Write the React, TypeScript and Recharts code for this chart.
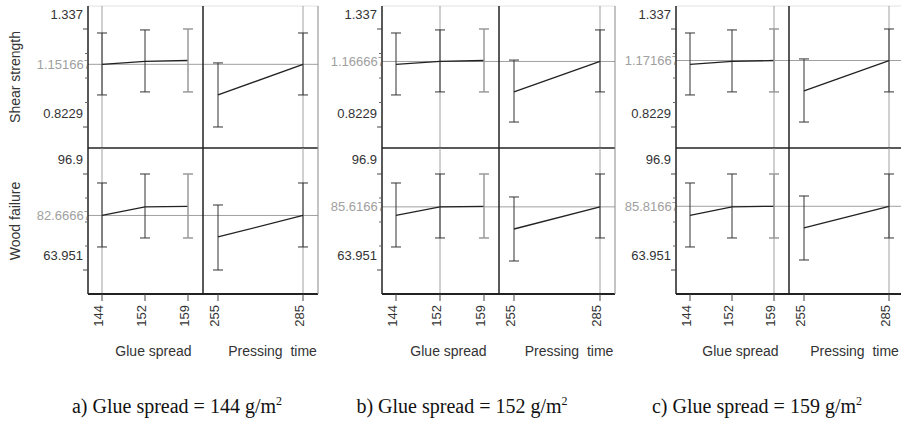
import React from "react";
import { LineChart, Line, XAxis, YAxis, ErrorBar, ReferenceLine } from "recharts";

// factor levels
const glueLevels = ["144", "152", "159"];
const pressLevels = ["255", "285"];

// shear strength profile over glue spread (pressing time at 285)
const shearGlueMean = [1.151667, 1.166667, 1.171667];
const shearGlueLow = [0.991, 1.007, 1.007];
const shearGlueHigh = [1.316, 1.332, 1.337];

// wood failure profile over glue spread
const woodGlueMean = [82.66667, 85.61667, 85.81667];
const woodGlueLow = [71.85, 74.94, 74.94];
const woodGlueHigh = [93.81, 96.9, 96.9];

// pressing time profiles, one row per panel (glue 144 / 152 / 159)
const shearPressMean = [[0.991, 1.151667], [1.007, 1.166667], [1.012, 1.171667]];
const shearPressLow = [[0.823, 0.991], [0.849, 1.007], [0.849, 1.007]];
const shearPressHigh = [[1.159, 1.316], [1.174, 1.332], [1.18, 1.337]];
const woodPressMean = [[75.28, 82.66667], [78.02, 85.61667], [78.37, 85.81667]];
const woodPressLow = [[63.95, 71.85], [67.04, 74.94], [67.38, 74.94]];
const woodPressHigh = [[86.26, 93.81], [89.01, 96.9], [89.35, 96.9]];

// current settings / predicted values per panel
const currentGlue = ["144", "152", "159"];
const currentPress = "285";
const shearCurrent = [1.151667, 1.166667, 1.171667];
const woodCurrent = [82.66667, 85.61667, 85.81667];
const grayGlue = "159";

// axis labels
const shearTicks = [1.337, 0.8229];
const woodTicks = [96.9, 63.951];
const shearDomain = [0.7128, 1.4576];
const woodDomain = [55.71, 105.82];
const captionLetters = ["a)", "b)", "c)"];

// layout
const PANELS = [
  { axisX: 88, divX: 203, rightX: 318, yw: 88, cap: 177, pressDx: 12 },
  { axisX: 382, divX: 499, rightX: 615, yw: 64, cap: 462, pressDx: 12 },
  { axisX: 676, divX: 789, rightX: 904, yw: 64, cap: 757, pressDx: 8 },
];
const ROWS = [
  { top: 6, h: 142 },
  { top: 148, h: 146 },
];
const XH = 64;
const M = 3;
const DARK = "#222";
const GRAY = "#a0a0a0";

type Pt = { level: string; mean: number; err?: number[]; errGray?: number[] };

function buildPoints(levels: string[], mean: number[], low: number[], high: number[]): Pt[] {
  return levels.map((level, i) => {
    const e = [mean[i] - low[i], high[i] - mean[i]];
    return level === grayGlue ? { level, mean: mean[i], errGray: e } : { level, mean: mean[i], err: e };
  });
}

function makeYTick(majors: number[], current: number, clipId: string) {
  return (props: any) => {
    const { x, y, payload } = props;
    const v = payload.value;
    if (v === current) {
      return (
        <g>
          <defs>
            <clipPath id={clipId}>
              <rect x={x - 80} y={y - 10} width={79} height={20} />
            </clipPath>
          </defs>
          <text x={x + 3} y={y} textAnchor="end" dominantBaseline="central" fontSize={13} fill={GRAY} clipPath={`url(#${clipId})`}>
            {String(v)}
          </text>
        </g>
      );
    }
    if (majors.includes(v)) {
      return (
        <g>
          <line x1={x - 5} x2={x} y1={y} y2={y} stroke="#444" />
          <text x={x - 5} y={y - 14} textAnchor="end" dominantBaseline="central" fontSize={13} fill="#333">
            {String(v)}
          </text>
        </g>
      );
    }
    return <line x1={x - 3} x2={x} y1={y} y2={y} stroke="#666" />;
  };
}

function XTick(props: any) {
  const { x, y, payload } = props;
  const tx = x - 4;
  const ty = y + 11;
  return (
    <g>
      <line x1={x} x2={x} y1={y} y2={y + 7} stroke="#444" />
      <text x={tx} y={ty} transform={`rotate(-90 ${tx} ${ty})`} textAnchor="end" dominantBaseline="central" fontSize={13} fill="#333">
        {payload.value}
      </text>
    </g>
  );
}

function ProfileCell(props: {
  plotLeft: number;
  top: number;
  plotW: number;
  plotH: number;
  yw: number;
  data: Pt[];
  domain: number[];
  majors: number[];
  current: number;
  refX: string;
  bottom: boolean;
  withAxis: boolean;
  padL: number;
  padR: number;
  yTitle?: string;
  xTitle: string;
  xTitleDx: number;
  id: string;
}) {
  const { plotLeft, top, plotW, plotH, yw, data, domain, majors, current, refX, bottom, withAxis, padL, padR, yTitle, xTitle, xTitleDx, id } = props;
  const xh = bottom ? XH : 1;
  const leftW = withAxis ? yw : 1;
  const rightW = withAxis ? 0 : 1;
  const w = plotW + leftW + rightW + 2 * M;
  const h = plotH + xh + 2 * M;
  const minors = [1, 2, 3].map((k) => majors[0] + ((majors[1] - majors[0]) * k) / 4);

  return (
    <div style={{ position: "absolute", left: plotLeft - leftW - M, top: top - M, width: w, height: h }}>
      <LineChart width={w} height={h} data={data} margin={{ top: M, right: M, bottom: M, left: M }}>
        <XAxis
          dataKey="level"
          type="category"
          scale="point"
          padding={{ left: padL, right: padR }}
          height={xh}
          interval={0}
          tickSize={0}
          tickMargin={0}
          tickLine={false}
          axisLine={{ stroke: DARK, strokeWidth: bottom ? 2 : 1.5 }}
          tick={bottom ? XTick : false}
          label={
            bottom
              ? (lp: any) => {
                  const vb = lp.viewBox;
                  return (
                    <text x={vb.x + vb.width / 2 + xTitleDx} y={vb.y + 57} textAnchor="middle" dominantBaseline="central" fontSize={14} fill="#333" style={{ whiteSpace: "pre" }}>
                      {xTitle}
                    </text>
                  );
                }
              : undefined
          }
        />
        {withAxis ? (
          <YAxis
            type="number"
            domain={domain}
            allowDataOverflow
            ticks={[majors[0], ...minors, majors[1], current]}
            interval={0}
            width={yw}
            tickSize={0}
            tickMargin={0}
            tickLine={false}
            axisLine={{ stroke: DARK, strokeWidth: 1.5 }}
            tick={makeYTick(majors, current, `clip-${id}`)}
            label={
              yTitle
                ? (lp: any) => {
                    const vb = lp.viewBox;
                    const cx = vb.x + 15;
                    const cy = vb.y + vb.height / 2;
                    return (
                      <text x={cx} y={cy} transform={`rotate(-90 ${cx} ${cy})`} textAnchor="middle" dominantBaseline="central" fontSize={14} fill="#333">
                        {yTitle}
                      </text>
                    );
                  }
                : undefined
            }
          />
        ) : (
          <YAxis type="number" domain={domain} allowDataOverflow width={1} tick={false} tickLine={false} axisLine={{ stroke: DARK, strokeWidth: 1.5 }} />
        )}
        {!withAxis && (
          <YAxis yAxisId="edge" orientation="right" type="number" domain={domain} allowDataOverflow width={1} tick={false} tickLine={false} axisLine={{ stroke: "#888" }} />
        )}
        {!bottom && <ReferenceLine y={domain[1]} stroke="#e2e2e2" />}
        <ReferenceLine y={current} stroke={GRAY} />
        <ReferenceLine x={refX} stroke={GRAY} />
        <Line dataKey="mean" stroke={DARK} strokeWidth={1.3} dot={false} activeDot={false} isAnimationActive={false}>
          <ErrorBar dataKey="err" direction="y" width={5} stroke="#333" strokeWidth={1} isAnimationActive={false} />
        </Line>
        <Line dataKey="mean" stroke="none" dot={false} activeDot={false} isAnimationActive={false}>
          <ErrorBar dataKey="errGray" direction="y" width={5} stroke="#9a9a9a" strokeWidth={1.5} isAnimationActive={false} />
        </Line>
      </LineChart>
    </div>
  );
}

export default function App() {
  const cells: React.ReactNode[] = [];
  PANELS.forEach((pn, p) => {
    ROWS.forEach((row, r) => {
      const shear = r === 0;
      const domain = shear ? shearDomain : woodDomain;
      const majors = shear ? shearTicks : woodTicks;
      const current = shear ? shearCurrent[p] : woodCurrent[p];
      const glueData = shear
        ? buildPoints(glueLevels, shearGlueMean, shearGlueLow, shearGlueHigh)
        : buildPoints(glueLevels, woodGlueMean, woodGlueLow, woodGlueHigh);
      const pressData = shear
        ? buildPoints(pressLevels, shearPressMean[p], shearPressLow[p], shearPressHigh[p])
        : buildPoints(pressLevels, woodPressMean[p], woodPressLow[p], woodPressHigh[p]);
      cells.push(
        <ProfileCell
          key={`g-${p}-${r}`}
          id={`g-${p}-${r}`}
          plotLeft={pn.axisX}
          top={row.top}
          plotW={pn.divX - pn.axisX}
          plotH={row.h}
          yw={pn.yw}
          data={glueData}
          domain={domain}
          majors={majors}
          current={current}
          refX={currentGlue[p]}
          bottom={r === 1}
          withAxis
          padL={14}
          padR={15}
          yTitle={p === 0 ? (shear ? "Shear strength" : "Wood failure") : undefined}
          xTitle="Glue spread"
          xTitleDx={8}
        />
      );
      cells.push(
        <ProfileCell
          key={`p-${p}-${r}`}
          id={`p-${p}-${r}`}
          plotLeft={pn.divX}
          top={row.top}
          plotW={pn.rightX - pn.divX}
          plotH={row.h}
          yw={0}
          data={pressData}
          domain={domain}
          majors={majors}
          current={current}
          refX={currentPress}
          bottom={r === 1}
          withAxis={false}
          padL={15}
          padR={15}
          xTitle="Pressing  time"
          xTitleDx={pn.pressDx}
        />
      );
    });
  });

  return (
    <div
      style={{
        position: "absolute",
        left: 0,
        top: 0,
        width: 901,
        height: 427,
        overflow: "hidden",
        background: "#fff",
        fontFamily: "'Liberation Sans', Arial, sans-serif",
      }}
    >
      {cells}
      {PANELS.map((pn, p) => (
        <div
          key={`cap-${p}`}
          style={{
            position: "absolute",
            left: pn.cap - 150,
            top: 396,
            width: 300,
            textAlign: "center",
            fontFamily: "'Liberation Serif', 'Times New Roman', serif",
            fontSize: 20,
            lineHeight: "20px",
            color: "#111",
            whiteSpace: "nowrap",
          }}
        >
          {captionLetters[p]} Glue spread = {glueLevels[p]} g/m
          <sup style={{ fontSize: 12, lineHeight: 0 }}>2</sup>
        </div>
      ))}
    </div>
  );
}
